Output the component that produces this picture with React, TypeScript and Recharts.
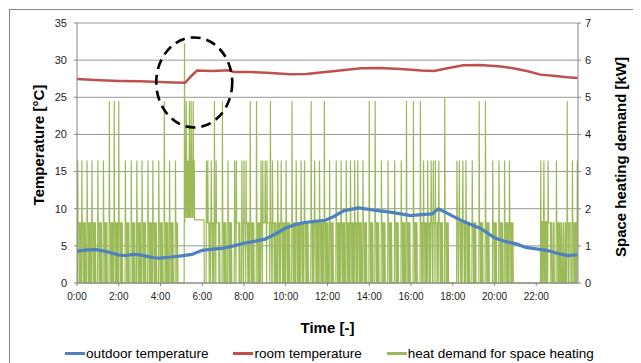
import React from "react";
import {
  ComposedChart,
  Line,
  XAxis,
  YAxis,
  CartesianGrid,
  Legend,
  ReferenceDot,
} from "recharts";

// ---------- data ----------
const timeTicks = [0, 120, 240, 360, 480, 600, 720, 840, 960, 1080, 1200, 1320];
const tempTicks = [0, 5, 10, 15, 20, 25, 30, 35];
const powerTicks = [0, 1, 2, 3, 4, 5, 6, 7];

// outdoor temperature [°C] at given hour
const outdoorHours = [0, 0.5, 0.9, 1.3, 1.7, 2.0, 2.35, 2.7, 3.0, 3.4, 3.7, 4.0, 4.5, 5.0, 5.5, 6.0, 6.5, 7.0, 7.5, 8.0, 8.5, 9.0, 9.5, 10.0, 10.5, 10.9, 11.4, 11.9, 12.3, 12.8, 13.5, 14.0, 14.4, 15.0, 15.5, 16.0, 16.5, 17.0, 17.3, 17.6, 18.0, 18.5, 19.0, 19.3, 20.0, 20.5, 21.0, 21.5, 22.0, 22.5, 23.0, 23.5, 23.98];
const outdoorTemp = [4.3, 4.45, 4.5, 4.3, 4.0, 3.75, 3.7, 3.85, 3.8, 3.55, 3.4, 3.35, 3.5, 3.65, 3.85, 4.4, 4.55, 4.7, 5.0, 5.35, 5.6, 5.9, 6.6, 7.4, 7.9, 8.15, 8.3, 8.45, 8.95, 9.75, 10.1, 9.9, 9.75, 9.55, 9.3, 9.06, 9.2, 9.3, 9.95, 9.6, 9.0, 8.3, 7.7, 7.4, 6.1, 5.6, 5.3, 4.8, 4.6, 4.4, 4.0, 3.7, 3.8];

// room temperature [°C] at given hour
const roomHours = [0, 1.1, 2.06, 3.0, 4.0, 4.6, 5.18, 5.45, 5.75, 6.5, 7.3, 7.5, 8.3, 9.1, 10.2, 11.0, 11.66, 12.6, 13.6, 14.5, 15.5, 16.5, 17.1, 17.75, 18.5, 19.3, 20.3, 20.9, 21.6, 22.2, 22.8, 23.5, 23.98];
const roomTemp = [27.45, 27.3, 27.2, 27.15, 27.05, 27.0, 26.95, 27.8, 28.6, 28.55, 28.65, 28.4, 28.4, 28.3, 28.1, 28.15, 28.35, 28.6, 28.9, 28.95, 28.8, 28.6, 28.55, 28.9, 29.3, 29.35, 29.15, 28.9, 28.5, 28.05, 27.9, 27.7, 27.6];

// heat demand: start-up peaks [minute of day, kW]
const heatPeaks: [number, number][] = [
  [2, 3.3], [14, 3.3], [29, 3.3], [43, 3.3], [60, 3.3], [76, 3.3], [93, 4.9], [107, 4.9], [120, 4.9],
  [139, 3.3], [156, 3.3], [172, 3.3], [187, 3.3], [204, 3.3], [218, 3.3], [235, 3.3], [251, 4.9], [266, 3.3], [283, 3.3],
  [309, 6.45], [314, 4.9], [323, 4.9], [328, 4.9], [334, 4.9],
  [372, 3.3], [376, 3.3], [386, 3.3], [395, 4.9], [400, 3.3], [418, 4.9], [434, 3.3], [453, 3.3], [458, 3.3], [474, 3.3],
  [480, 3.3], [486, 3.3], [498, 4.9], [516, 4.9], [529, 3.3], [534, 3.3], [541, 3.3], [546, 3.3], [556, 4.9], [562, 3.3],
  [577, 3.3], [587, 3.3], [601, 3.3], [618, 4.9], [630, 3.3], [644, 3.3], [654, 3.3], [673, 4.9], [683, 3.3], [697, 3.3],
  [711, 4.9], [726, 3.3], [745, 3.3], [759, 3.3], [774, 3.3], [786, 3.3], [798, 3.3], [807, 3.3], [822, 3.3], [840, 4.9],
  [857, 4.9], [875, 3.3], [894, 3.3], [913, 3.3], [932, 3.3], [947, 4.9], [967, 4.9], [987, 4.9], [996, 3.3], [1008, 3.3],
  [1018, 3.3], [1024, 3.3], [1030, 3.3], [1040, 3.3], [1057, 5.0], [1092, 3.3], [1099, 3.3], [1109, 3.3], [1118, 3.3],
  [1136, 3.3], [1156, 4.9], [1174, 4.9], [1195, 3.3], [1213, 3.3], [1229, 3.3], [1243, 3.3],
  [1333, 3.3], [1342, 3.3], [1354, 3.3], [1378, 3.3], [1409, 4.9], [1424, 3.3], [1438, 3.3],
];
// kW following each start-up peak (minute by minute)
const cycleTail = [1.62, 1.62, 1.62, 0, 0, 1.62, 1.62, 0, 1.62, 1.62, 0];
// extra low-power pulses [minute of day]
const lowPulses = [1358, 1364, 1370, 1384, 1392, 1398, 1404, 1416, 1430];
// fast-switching bands [from minute, to minute, low kW, high kW]
const switchingBands: [number, number, number, number][] = [
  [311, 338, 1.75, 3.3],
  [1333, 1352, 0, 1.67],
];
// steady plateaus [from minute, to minute, kW]
const plateaus: [number, number, number][] = [[338, 366, 1.7]];
// quiet periods [from minute, to minute]
const offPeriods: [number, number][] = [[290, 309], [1256, 1333]];

// ---------- build series ----------
const DAY = 1440;
function buildHeat() {
  const v: number[] = new Array(DAY).fill(0);
  const setMax = (k: number, val: number) => {
    if (k >= 0 && k < DAY && val > v[k]) v[k] = val;
  };
  heatPeaks.forEach(([m]) => cycleTail.forEach((val, i) => setMax(m + 1 + i, val)));
  lowPulses.forEach((m) => {
    setMax(m, 1.62);
    setMax(m + 1, 1.62);
  });
  offPeriods.forEach(([a, b]) => {
    for (let k = a; k < b; k++) v[k] = 0;
  });
  plateaus.forEach(([a, b, val]) => {
    for (let k = a; k < b; k++) v[k] = val;
  });
  switchingBands.forEach(([a, b, lo, hi]) => {
    for (let k = a; k < b; k++) v[k] = (k - a) % 2 === 0 ? hi : lo;
  });
  heatPeaks.forEach(([m, kw]) => {
    v[m] = kw;
  });
  return v.map((kw, m) => ({ t: m, kw }));
}
const heatData = buildHeat();
const outdoorData = outdoorHours.map((h, i) => ({ t: h * 60, temp: outdoorTemp[i] }));
const roomData = roomHours.map((h, i) => ({ t: h * 60, temp: roomTemp[i] }));

const C_OUT = "#4f81bd";
const C_ROOM = "#c0504d";
const C_HEAT = "#9bbb59";
const FONT = "'Liberation Sans', Arial, sans-serif";

const legendItems = [
  { label: "outdoor temperature", color: C_OUT },
  { label: "room temperature", color: C_ROOM },
  { label: "heat demand for space heating", color: C_HEAT },
];

const LegendContent = () => (
  <div
    style={{
      display: "flex",
      justifyContent: "center",
      alignItems: "center",
      height: 20,
      gap: 25,
      fontFamily: FONT,
      fontSize: 13.5,
      color: "#000",
      paddingLeft: 8,
    }}
  >
    {legendItems.map((it) => (
      <div key={it.label} style={{ display: "flex", alignItems: "center" }}>
        <div style={{ width: 20, height: 3, background: it.color, marginRight: 1 }} />
        <span>{it.label}</span>
      </div>
    ))}
  </div>
);

const VLabel = (props: any) => {
  const { viewBox, text, dx, dy } = props;
  const cx = viewBox.x + dx;
  const cy = viewBox.y + viewBox.height / 2 + dy;
  return (
    <text
      x={cx}
      y={cy}
      transform={`rotate(-90 ${cx} ${cy})`}
      textAnchor="middle"
      dominantBaseline="central"
      fontFamily={FONT}
      fontSize={15}
      fontWeight={700}
      fill="#000"
    >
      {text}
    </text>
  );
};

const XLabel = (props: any) => {
  const { viewBox } = props;
  return (
    <text
      x={viewBox.x + viewBox.width / 2}
      y={viewBox.y + 44}
      textAnchor="middle"
      dominantBaseline="central"
      fontFamily={FONT}
      fontSize={15}
      fontWeight={700}
      fill="#000"
    >
      Time [-]
    </text>
  );
};

const Ellipse = (props: any) => (
  <ellipse
    cx={props.cx}
    cy={props.cy}
    rx={38}
    ry={45}
    fill="none"
    stroke="#000"
    strokeWidth={2.6}
    strokeDasharray="10 6"
  />
);

const fmtTime = (m: number) => `${Math.round(m / 60)}:00`;

export default function App() {
  return (
    <div
      style={{
        marginLeft: 1,
        marginTop: 1,
        width: 631,
        height: 353,
        borderLeft: "1px solid #868686",
        borderTop: "1px solid #868686",
        background: "#fff",
      }}
    >
      <ComposedChart
        width={631}
        height={353}
        data={heatData}
        margin={{ top: 13, right: 0, bottom: 0, left: 0 }}
      >
        <CartesianGrid yAxisId="T" vertical={false} stroke="#979797" strokeWidth={1} />
        <XAxis
          dataKey="t"
          type="number"
          domain={[0, DAY]}
          ticks={timeTicks}
          tickFormatter={fmtTime}
          height={60}
          stroke="#868686"
          tickSize={3}
          tickMargin={7}
          tick={{ fontSize: 10, fill: "#222", fontFamily: FONT }}
          allowDataOverflow
          label={<XLabel />}
        />
        <YAxis
          yAxisId="T"
          orientation="left"
          domain={[0, 35]}
          ticks={tempTicks}
          width={67}
          stroke="#868686"
          tickSize={3}
          tickMargin={7}
          tick={{ fontSize: 11, fill: "#222", fontFamily: FONT }}
          label={<VLabel text="Temperature [°C]" dx={28} dy={-8} />}
        />
        <YAxis
          yAxisId="P"
          orientation="right"
          domain={[0, 7]}
          ticks={powerTicks}
          width={63}
          stroke="#868686"
          tickSize={3}
          tickMargin={4}
          tick={{ fontSize: 11, fill: "#222", fontFamily: FONT }}
          label={<VLabel text="Space heating demand [kW]" dx={42} dy={4} />}
        />
        <Line
          yAxisId="P"
          dataKey="kw"
          stroke={C_HEAT}
          strokeWidth={1.2}
          dot={false}
          isAnimationActive={false}
          type="linear"
        />
        <Line
          yAxisId="T"
          data={outdoorData}
          dataKey="temp"
          stroke={C_OUT}
          strokeWidth={3.2}
          dot={false}
          isAnimationActive={false}
          type="linear"
        />
        <Line
          yAxisId="T"
          data={roomData}
          dataKey="temp"
          stroke={C_ROOM}
          strokeWidth={2.5}
          dot={false}
          isAnimationActive={false}
          type="linear"
        />
        <ReferenceDot
          yAxisId="T"
          x={337}
          y={27}
          r={40}
          ifOverflow="visible"
          shape={<Ellipse />}
        />
        <Legend verticalAlign="bottom" content={<LegendContent />} />
      </ComposedChart>
    </div>
  );
}
